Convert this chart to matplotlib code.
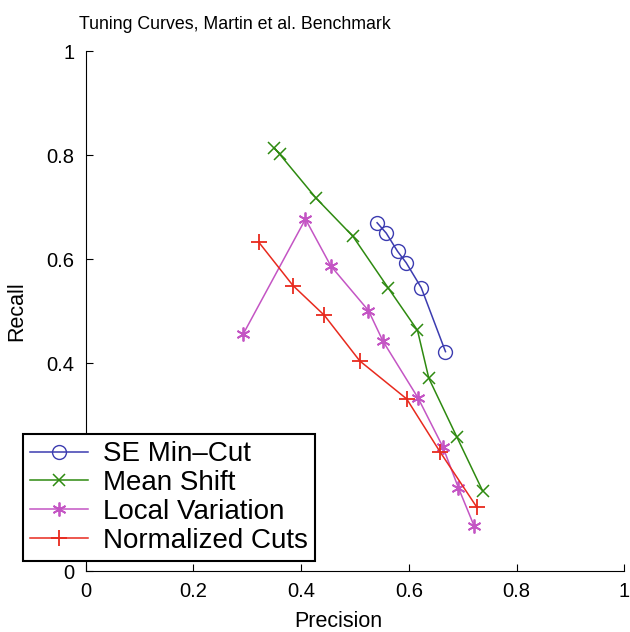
import matplotlib.pyplot as plt

plt.rcParams['font.family'] = ['Liberation Sans', 'DejaVu Sans']

# Precision / recall pairs
se_prec = [0.541, 0.558, 0.579, 0.595, 0.623, 0.668]
se_rec = [0.670, 0.650, 0.615, 0.593, 0.545, 0.422]

ms_prec = [0.350, 0.360, 0.428, 0.496, 0.562, 0.616, 0.637, 0.689, 0.737]
ms_rec = [0.814, 0.802, 0.717, 0.644, 0.544, 0.463, 0.371, 0.258, 0.154]

lv_prec = [0.292, 0.408, 0.455, 0.525, 0.552, 0.617, 0.663, 0.692, 0.721]
lv_rec = [0.455, 0.677, 0.587, 0.501, 0.442, 0.333, 0.239, 0.160, 0.087]

nc_prec = [0.321, 0.385, 0.443, 0.509, 0.596, 0.658, 0.726]
nc_rec = [0.633, 0.549, 0.492, 0.404, 0.331, 0.229, 0.123]

labels = ['SE Min\u2013Cut', 'Mean Shift', 'Local Variation', 'Normalized Cuts']

fig = plt.figure(figsize=(6.3, 6.32), dpi=100)
ax = fig.add_axes([0.136, 0.0965, 0.855, 0.8225])

ax.plot(se_prec, se_rec, color='#3c3cb0', marker='o', markersize=10,
        markerfacecolor='none', lw=1.1, label=labels[0])
ax.plot(ms_prec, ms_rec, color='#2e8a10', marker='x', markersize=8,
        mew=1.1, lw=1.1, label=labels[1])
ax.plot(lv_prec, lv_rec, color='#c455c4', marker=(6, 2, 0), markersize=10,
        mew=1.3, lw=1.1, label=labels[2])
ax.plot(nc_prec, nc_rec, color='#e82a1e', marker='+', markersize=11,
        mew=1.3, lw=1.1, label=labels[3])

ax.set_xlim(0, 1)
ax.set_ylim(0, 1)
ax.set_xticks([0, 0.2, 0.4, 0.6, 0.8, 1])
ax.set_xticklabels(['0', '0.2', '0.4', '0.6', '0.8', '1'])
ax.set_yticks([0, 0.4, 0.6, 0.8, 1])
ax.set_yticklabels(['0', '0.4', '0.6', '0.8', '1'])
ax.tick_params(direction='in', length=5, labelsize=14.5, pad=8)
ax.spines['top'].set_visible(False)
ax.spines['right'].set_visible(False)

ax.set_xlabel('Precision', fontsize=15.5, labelpad=7)
ax.xaxis.label.set_x(0.469)
ax.set_ylabel('Recall', fontsize=15.5, labelpad=14)
fig.text(0.125, 0.962, 'Tuning Curves, Martin et al. Benchmark', fontsize=12.8,
         va='center', ha='left')

leg = fig.legend(loc='lower left', bbox_to_anchor=(0.036, 0.113),
                 fontsize=20, fancybox=False, framealpha=1, edgecolor='black',
                 handlelength=2.1, handletextpad=0.55, labelspacing=0.1,
                 borderpad=0.25, borderaxespad=0)
leg.get_frame().set_linewidth(1.5)

fig.savefig('out.png', dpi=100)
